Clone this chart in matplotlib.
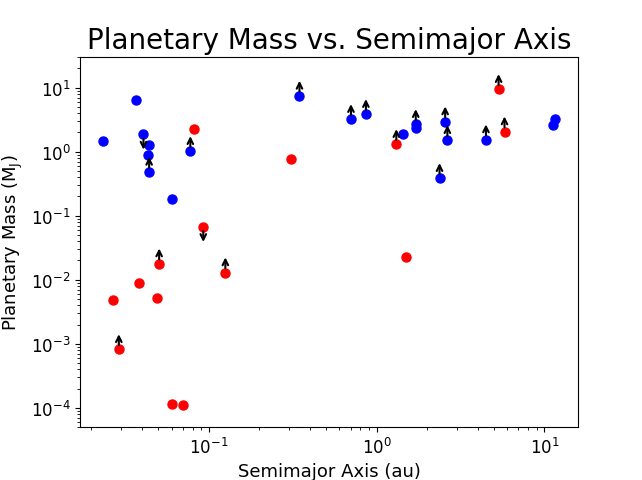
import matplotlib
matplotlib.use("Agg")
import matplotlib.pyplot as plt
from matplotlib.transforms import offset_copy

# semimajor axis (au), mass (M_J), limit flag: 0 = measured, 1 = lower limit, -1 = upper limit
blue_a = [0.0233, 0.0366, 0.0408, 0.0441, 0.0434, 0.0441, 0.0776, 0.060,
          0.347, 0.703, 0.863, 1.44, 1.71, 1.71, 2.56, 2.64, 2.37, 4.48, 11.6, 11.2]
blue_m = [1.49, 6.49, 1.86, 1.29, 0.885, 0.48, 1.01, 0.18,
          7.39, 3.2, 3.83, 1.86, 2.67, 2.37, 2.94, 1.50, 0.383, 1.54, 3.28, 2.6]
blue_lim = [0, 0, -1, 0, 0, 1, 1, 0,
            1, 1, 1, 0, 1, 0, 1, 1, 1, 1, 0, 0]

red_a = [0.0819, 0.0927, 0.307, 1.31, 1.49, 5.33, 5.78, 0.0506,
         0.1255, 0.0383, 0.0267, 0.0488, 0.0291, 0.0603, 0.0702]
red_m = [2.23, 0.0673, 0.778, 1.30, 0.0223, 9.4, 2.05, 0.0178,
         0.0129, 0.00898, 0.00487, 0.0051, 0.000815, 0.000114, 0.000109]
red_lim = [0, -1, 0, 1, 0, 1, 1, 1,
           1, 0, 0, 0, 1, 0, 0]

fig, ax = plt.subplots(figsize=(6.42, 4.81), dpi=100)

groups = [(blue_a, blue_m, blue_lim, "blue"), (red_a, red_m, red_lim, "red")]

for xs, ys, lims, col in groups:
    ax.plot(xs, ys, "o", color=col, markersize=6.5, zorder=2)

# flechas para los limites (arriba = limite inferior, abajo = limite superior)
for xs, ys, lims, col in groups:
    for x, y, lim in zip(xs, ys, lims):
        if lim == 0:
            continue
        tip = offset_copy(ax.transData, fig=fig, x=0, y=11 * lim, units="points")
        ax.annotate("", xy=(x, y), xycoords=tip, xytext=(x, y), textcoords="data",
                    arrowprops=dict(arrowstyle="->", color="k", lw=1.5,
                                    shrinkA=3.2, shrinkB=0), zorder=3)

ax.set_xscale("log")
ax.set_yscale("log")
ax.set_xlim(0.01714, 15.8)
ax.set_ylim(5.0e-5, 30.4)
ax.set_title("Planetary Mass vs. Semimajor Axis", fontsize=20)
ax.set_xlabel("Semimajor Axis (au)", fontsize=13)
ax.set_ylabel(r"Planetary Mass (M$_\mathrm{J}$)", fontsize=13)
ax.tick_params(labelsize=12)

fig.savefig("out.png")
